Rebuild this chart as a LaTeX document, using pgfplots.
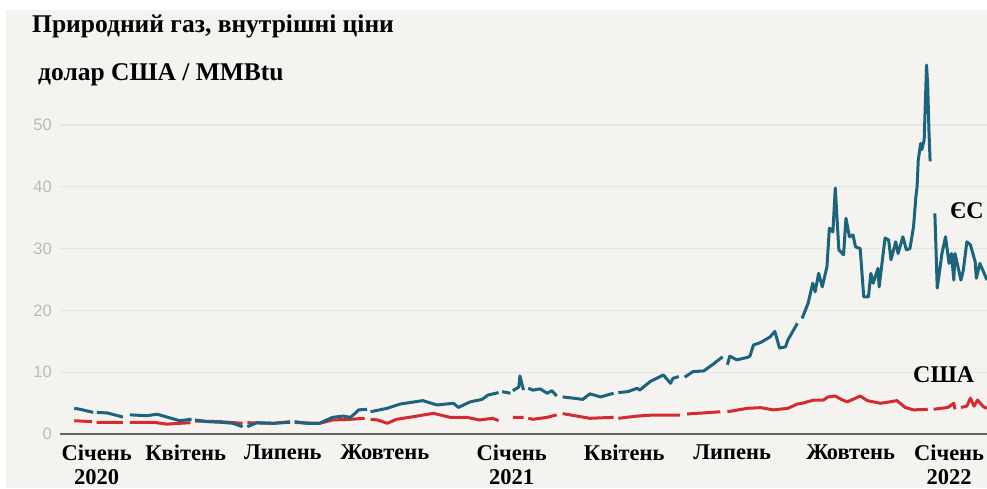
\documentclass[border=0pt]{standalone}
\usepackage{fontspec}
\setmainfont{Liberation Serif}
\newfontfamily\tickfont{Liberation Sans}
\usepackage{pgfplots}
\pgfplotsset{compat=1.18}
\usetikzlibrary{backgrounds}
\definecolor{bg}{RGB}{244,243,240}
\definecolor{eu}{RGB}{28,99,125}
\definecolor{us}{RGB}{211,43,47}
\definecolor{gridc}{RGB}{229,228,225}
\definecolor{tickc}{RGB}{185,185,185}
\definecolor{basec}{RGB}{100,100,100}
\begin{document}
\begin{tikzpicture}[x=1pt,y=1pt]
\begin{axis}[
  scale only axis, width=927pt, height=383.2pt,
  xmin=-11, xmax=771, ymin=0, ymax=62,
  axis line style={draw=none},
  major tick length=0pt,
  ytick={0,10,20,30,40,50},
  ymajorgrids, grid style={gridc, line width=1.2pt},
  xtick={20,95,177,263,370,465,556,656,739},
  xticklabels={{Січень\\2020},Квітень,Липень,Жовтень,{Січень\\2021},Квітень,Липень,Жовтень,{Січень\\2022}},
  xticklabel style={font=\fontsize{22.5}{24}\selectfont\bfseries, align=center, anchor=north, inner sep=0pt, yshift=-11pt},
  yticklabel style={font=\tickfont\fontsize{16.5}{18}\selectfont, text=tickc, anchor=east, inner sep=0pt, xshift=-8pt},
  /pgf/number format/assume math mode=true,
  unbounded coords=jump, clip=false,
]
\coordinate (P) at (rel axis cs:0,0);
\draw[basec, line width=2pt] (axis cs:-11,0) -- (axis cs:771,0);
% USA
\addplot[us, line width=3pt, line join=round] coordinates {
(1,2.15)(16,2.0)(18,nan)
(20,1.9)(42,1.9)(45,nan)
(48,1.9)(68,1.9)(79,1.6)(99,1.83)(101,nan)
(103,2.1)(124,2.0)(143,1.73)(145,nan)
(147,1.83)(169,1.73)(183,2.0)(185,nan)
(187,1.85)(208,1.73)(219,2.27)(234,2.38)(246,2.54)(249,nan)
(251,2.38)(257,2.27)(265,1.73)(273,2.38)(287,2.8)(304,3.35)(318,2.7)(332,2.7)(343,2.27)(354,2.54)(359,2.15)(360,nan)
(362,2.38)(366,nan)
(371,2.7)(380,2.7)(382,nan)
(384,2.54)(388,2.38)(400,2.7)(408,3.1)(410,nan)
(413,3.3)(422,3.0)(436,2.54)(456,2.7)(458,nan)
(460,2.54)(476,2.9)(489,3.07)(512,3.07)(515,nan)
(518,3.24)(535,3.45)(546,3.6)(549,nan)
(552,3.6)(569,4.16)(580,4.26)(591,3.9)(603,4.16)(611,4.85)(615,4.97)(625,5.5)(633,5.5)(637,6.0)(643,6.15)(648,5.6)(653,5.2)(659,5.7)(664,6.15)(670,5.4)(681,4.97)(689,5.2)(695,5.4)(702,4.3)(709,3.9)(721,4.0)(723,nan)
(726,4.0)(738,4.3)(743,4.97)(744,4.0)(746,nan)
(749,4.3)(754,4.5)(757,5.8)(760,4.5)(763,5.5)(768,4.4)(771,4.16)
};
% EU
\addplot[eu, line width=3pt, line join=round] coordinates {
(1,4.16)(6,4.0)(17,3.5)(18,nan)
(20,3.5)(29,3.4)(35,3.1)(42,2.75)(45,nan)
(48,3.1)(62,2.96)(71,3.2)(79,2.75)(90,2.15)(100,2.4)(101,nan)
(103,2.27)(113,2.0)(124,1.9)(135,1.73)(143,1.18)(145,nan)
(147,1.18)(155,1.83)(169,1.73)(183,1.9)(185,nan)
(187,2.0)(197,1.73)(208,1.73)(214,2.27)(219,2.7)(228,2.9)(234,2.7)(238,3.35)(241,3.9)(248,4.0)(249,nan)
(251,3.6)(265,4.16)(276,4.85)(295,5.4)(307,4.7)(321,4.97)(325,4.3)(335,5.2)(345,5.6)(350,6.3)(359,6.7)(360,nan)
(362,6.85)(369,6.6)(370,nan)
(371,7.0)(376,7.6)(377,9.4)(380,7.1)(382,nan)
(384,7.4)(388,7.1)(394,7.3)(400,6.6)(404,7.0)(408,6.15)(410,nan)
(413,6.0)(422,5.8)(430,5.6)(436,6.5)(445,6.0)(456,6.6)(458,nan)
(460,6.7)(468,6.85)(476,7.4)(478,7.1)(487,8.5)(498,9.55)(504,8.2)(506,9.0)(511,9.3)(513,nan)
(516,9.2)(523,10.1)(532,10.2)(540,11.3)(548,12.5)(550,nan)
(552,11.2)(554,12.6)(560,12.0)(569,12.4)(571,12.6)(574,14.4)(580,14.8)(588,15.7)(592,16.6)(596,13.9)(601,14.1)(603,15.2)(611,17.9)(613,nan)
(615,18.7)(620,21.1)(624,24.4)(626,23.0)(629,26.0)(632,23.8)(636,27.1)(638,33.3)(641,32.7)(643,39.8)(646,29.8)(650,29.0)(652,34.9)(655,31.9)(658,32.2)(660,30.3)(664,30.0)(667,22.2)(671,22.2)(673,26.0)(675,24.4)(679,26.8)(680,23.8)(685,31.7)(688,31.4)(690,28.2)(694,31.1)(696,29.2)(700,31.9)(703,29.8)(706,30.0)(709,33.5)(711,38.4)(712,40.0)(713,44.3)(715,47.0)(716,46.0)(718,47.6)(720,59.7)(721,56.2)(722,49.2)(723,44.1)(725,nan)
(727,35.7)(729,23.6)(733,29.2)(736,31.9)(739,27.6)(741,29.2)(743,24.9)(744,29.2)
(749,24.9)(751,26.5)(754,31.1)(757,30.6)(761,27.9)(762,25.2)(765,27.6)(771,24.9)
};
\end{axis}
\path (P) ++(-60,-54) coordinate (O);
\begin{scope}[on background layer]
\fill[white] (O) rectangle ++(987,488);
\fill[bg] ([xshift=6pt]O) rectangle ++(981,478);
\end{scope}
\node[anchor=base west, inner sep=0pt, font=\fontsize{25.5}{28}\selectfont\bfseries] at ([shift={(32,455)}]O) {Природний газ, внутрішні ціни};
\node[anchor=base west, inner sep=0pt, font=\fontsize{25.5}{28}\selectfont\bfseries] at ([shift={(38,407)}]O) {долар США / MMBtu};
\node[anchor=base west, inner sep=0pt, font=\fontsize{24}{26}\selectfont\bfseries] at ([shift={(950,270)}]O) {ЄС};
\node[anchor=base west, inner sep=0pt, font=\fontsize{24}{26}\selectfont\bfseries] at ([shift={(913,106)}]O) {США};
\pgfresetboundingbox
\path[use as bounding box] (O) rectangle ++(987,488);
\end{tikzpicture}
\end{document}
